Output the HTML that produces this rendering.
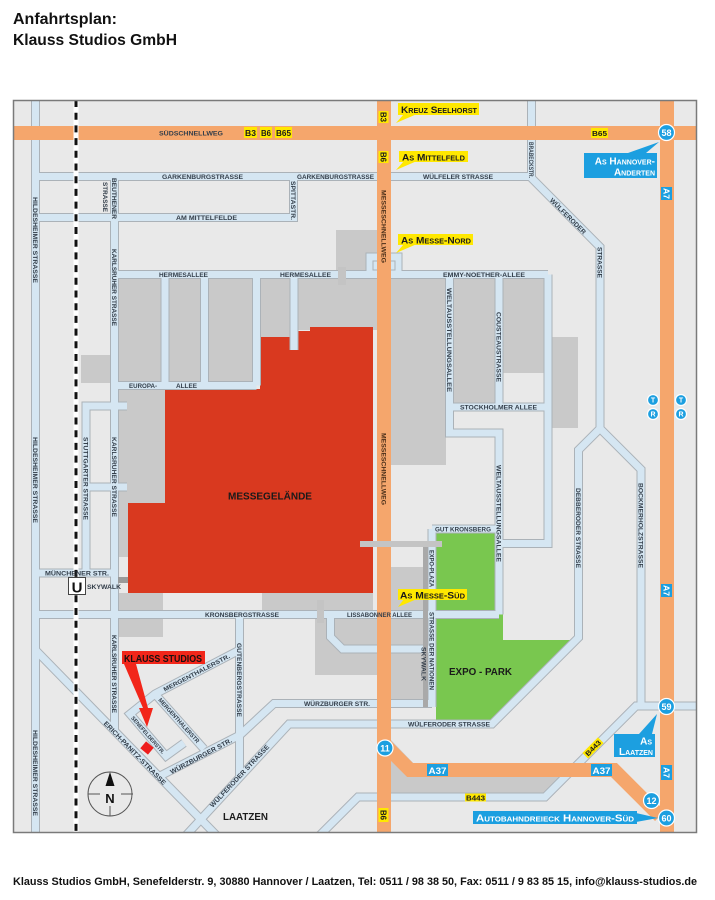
<!DOCTYPE html>
<html><head><meta charset="utf-8"><style>
html,body{margin:0;padding:0;background:#fff;}
svg{display:block;}
.r{font-family:"Liberation Sans",sans-serif;font-weight:bold;font-size:6.6px;fill:#333e4a;}
.b{font-family:"Liberation Sans",sans-serif;font-weight:bold;}
.sc{font-family:"Liberation Sans",sans-serif;font-weight:bold;font-variant:small-caps;}
</style></head><body>
<svg width="715" height="900" viewBox="0 0 715 900" xmlns="http://www.w3.org/2000/svg">
<rect width="715" height="900" fill="#fff"/>
<text class="b" x="13" y="24" font-size="15.5" textLength="104" lengthAdjust="spacingAndGlyphs" fill="#111">Anfahrtsplan:</text>
<text class="b" x="13" y="45" font-size="15.5" textLength="164" lengthAdjust="spacingAndGlyphs" fill="#111">Klauss Studios GmbH</text>

<defs>
<clipPath id="cp"><rect x="13" y="100" width="684" height="733"/></clipPath>
<g id="rd">
<path d="M35.5,95 V840"/>
<path d="M35.5,176.5 H531.5"/>
<path d="M35.5,217.5 H293.5 V176.5"/>
<path d="M114.5,176.5 V731"/>
<path d="M114.5,274.5 H548"/>
<path d="M165,274.5 V385.5"/>
<path d="M204.5,274.5 V385.5"/>
<path d="M256.5,274.5 V385.5"/>
<path d="M294,274.5 V350"/>
<path d="M114.5,385.5 H256.5"/>
<path d="M127,406 H86 V573"/>
<path d="M86,487 H127"/>
<path d="M35.5,573 H114.5"/>
<path d="M35.5,614.5 H499"/>
<path d="M35.5,650 L222,841"/>
<path d="M239.5,614.5 V776"/>
<path d="M158,777 L240,735 L274,703.5 H432"/>
<path d="M178,844 L289,724 H492 L578.5,637.5 V450 L600,428.5 V247 L531.5,178 V95"/>
<path d="M600,428.5 L641,469.5 V706"/>
<path d="M705,706 H636 L545,797 H358 L312,843"/>
<path d="M449.5,274.5 V433 H499 V614.5"/>
<path d="M499,274.5 V407"/>
<path d="M449.5,407 H548"/>
<path d="M548,274.5 V543.5 H499"/>
<path d="M432,529 H499"/>
<path d="M432,529 V707"/>
<path d="M330.5,614.5 V637 L342.5,649 H432"/>
<path d="M239.5,650 L155,694 L130,714 L166,756 L184,743"/>
<path d="M155,694 L204,749"/>
</g>
</defs>

<g clip-path="url(#cp)">
<rect x="13" y="100" width="684" height="733" fill="#e9e9e9"/>
<g fill="#c9c9c9">
<rect x="336" y="230" width="41" height="41"/>
<rect x="119" y="278" width="43" height="104"/>
<rect x="168" y="278" width="33" height="104"/>
<rect x="208" y="278" width="45" height="104"/>
<rect x="260" y="278" width="30" height="62"/>
<rect x="298" y="278" width="79" height="52"/>
<rect x="81" y="355" width="29" height="28"/>
<rect x="119" y="389" width="46" height="114"/>
<rect x="119" y="503" width="9" height="54"/>
<rect x="119" y="593" width="44" height="17"/>
<rect x="119" y="619" width="44" height="18"/>
<rect x="262" y="593" width="111" height="17"/>
<rect x="315" y="619" width="62" height="56"/>
<rect x="391" y="278" width="55" height="187"/>
<rect x="454" y="278" width="41" height="125"/>
<rect x="503" y="278" width="41" height="95"/>
<rect x="552" y="337" width="26" height="91"/>
<rect x="391" y="567" width="32" height="133"/>
<polygon points="391,740 420,770 570,770 554,793 391,793"/>
</g>
<polygon points="165,389 260,389 260,337 298,337 298,331 310,331 310,327 373,327 373,593 128,593 128,503 165,503" fill="#d9391f"/>
<polygon points="436,533 503,533 503,640 572,640 488,724 436,724" fill="#79c74f"/>

<use href="#rd" fill="none" stroke="#abb2b8" stroke-width="9" stroke-linejoin="miter"/>
<use href="#rd" fill="none" stroke="#d5e6f2" stroke-width="7" stroke-linejoin="miter"/>

<rect x="366" y="253" width="36" height="21" fill="#d5e6f2"/>
<path d="M366,271 V253 H402 V271" fill="none" stroke="#abb2b8" stroke-width="1"/>
<rect x="373" y="261" width="22" height="9" fill="none" stroke="#abb2b8" stroke-width="1"/>
<rect x="338" y="267" width="8" height="18" fill="#c4c4c4"/>
<rect x="317" y="600" width="7" height="23" fill="#c4c4c4"/>
<rect x="423" y="547" width="5" height="160" fill="#a9a9a9"/>
<rect x="118" y="577" width="10" height="6" fill="#9a9a9a"/>

<g fill="#f5a66c">
<rect x="13" y="126" width="684" height="14"/>
<rect x="377" y="100" width="14" height="733"/>
<rect x="660" y="100" width="14" height="733"/>
</g>
<path d="M384,744 L410,770 H614 L660,816" stroke="#f5a66c" stroke-width="14" fill="none"/>
<rect x="360" y="541" width="82" height="6" fill="#c4c4c4"/>

<line x1="76" y1="100" x2="76" y2="833" stroke="#fff" stroke-width="5"/>
<line x1="76" y1="100" x2="76" y2="833" stroke="#111" stroke-width="3" stroke-dasharray="7 5.7"/>
</g>

<!-- horizontal road labels -->
<g class="r" lengthAdjust="spacingAndGlyphs">
<text x="159" y="135.4" textLength="64" lengthAdjust="spacingAndGlyphs">SÜDSCHNELLWEG</text>
<text x="162" y="178.9" textLength="81" lengthAdjust="spacingAndGlyphs">GARKENBURGSTRASSE</text>
<text x="297" y="178.9" textLength="77" lengthAdjust="spacingAndGlyphs">GARKENBURGSTRASSE</text>
<text x="423" y="178.9" textLength="70" lengthAdjust="spacingAndGlyphs">WÜLFELER STRASSE</text>
<text x="176" y="219.9" textLength="61" lengthAdjust="spacingAndGlyphs">AM MITTELFELDE</text>
<text x="159" y="276.9" textLength="49" lengthAdjust="spacingAndGlyphs">HERMESALLEE</text>
<text x="280" y="276.9" textLength="51" lengthAdjust="spacingAndGlyphs">HERMESALLEE</text>
<text x="443" y="276.9" textLength="82" lengthAdjust="spacingAndGlyphs">EMMY-NOETHER-ALLEE</text>
<text x="129" y="387.9" textLength="28" lengthAdjust="spacingAndGlyphs">EUROPA-</text>
<text x="176" y="387.9" textLength="21" lengthAdjust="spacingAndGlyphs">ALLEE</text>
<text x="460" y="409.4" textLength="77" lengthAdjust="spacingAndGlyphs">STOCKHOLMER ALLEE</text>
<text x="435" y="531.4" textLength="56" lengthAdjust="spacingAndGlyphs">GUT KRONSBERG</text>
<text x="45" y="575.4" textLength="64" lengthAdjust="spacingAndGlyphs">MÜNCHENER STR.</text>
<text x="87" y="589" textLength="34" lengthAdjust="spacingAndGlyphs">SKYWALK</text>
<text x="205" y="616.9" textLength="74" lengthAdjust="spacingAndGlyphs">KRONSBERGSTRASSE</text>
<text x="347" y="616.9" textLength="65" lengthAdjust="spacingAndGlyphs">LISSABONNER ALLEE</text>
<text x="304" y="705.9" textLength="66" lengthAdjust="spacingAndGlyphs">WÜRZBURGER STR.</text>
<text x="408" y="726.4" textLength="82" lengthAdjust="spacingAndGlyphs">WÜLFERODER STRASSE</text>
</g>

<!-- vertical road labels -->
<g class="r">
<text transform="translate(33.1,197) rotate(90)" textLength="86" lengthAdjust="spacingAndGlyphs">HILDESHEIMER STRASSE</text>
<text transform="translate(33.1,437) rotate(90)" textLength="86" lengthAdjust="spacingAndGlyphs">HILDESHEIMER STRASSE</text>
<text transform="translate(33.1,730) rotate(90)" textLength="86" lengthAdjust="spacingAndGlyphs">HILDESHEIMER STRASSE</text>
<text transform="translate(112.1,178) rotate(90)" textLength="41" lengthAdjust="spacingAndGlyphs">BEUTHENER</text>
<text transform="translate(103,182) rotate(90)" textLength="30" lengthAdjust="spacingAndGlyphs">STRASSE</text>
<text transform="translate(291.1,181) rotate(90)" textLength="39" lengthAdjust="spacingAndGlyphs">SPITTASTR.</text>
<text transform="translate(112.1,249) rotate(90)" textLength="77" lengthAdjust="spacingAndGlyphs">KARLSRUHER STRASSE</text>
<text transform="translate(112.1,437) rotate(90)" textLength="80" lengthAdjust="spacingAndGlyphs">KARLSRUHER STRASSE</text>
<text transform="translate(112.1,635) rotate(90)" textLength="78" lengthAdjust="spacingAndGlyphs">KARLSRUHER STRASSE</text>
<text transform="translate(83.6,437) rotate(90)" textLength="83" lengthAdjust="spacingAndGlyphs">STUTTGARTER STRASSE</text>
<text transform="translate(381.6,190) rotate(90)" textLength="73" lengthAdjust="spacingAndGlyphs" fill="#4a2e18">MESSESCHNELLWEG</text>
<text transform="translate(381.6,433) rotate(90)" textLength="72" lengthAdjust="spacingAndGlyphs" fill="#4a2e18">MESSESCHNELLWEG</text>
<text transform="translate(447.1,288) rotate(90)" textLength="104" lengthAdjust="spacingAndGlyphs">WELTAUSSTELLUNGSALLEE</text>
<text transform="translate(496.6,465) rotate(90)" textLength="97" lengthAdjust="spacingAndGlyphs">WELTAUSSTELLUNGSALLEE</text>
<text transform="translate(496.6,312) rotate(90)" textLength="70" lengthAdjust="spacingAndGlyphs">COUSTEAUSTRASSE</text>
<text transform="translate(576.1,488) rotate(90)" textLength="80" lengthAdjust="spacingAndGlyphs">DEBBERODER STRASSE</text>
<text transform="translate(638.6,483) rotate(90)" textLength="85" lengthAdjust="spacingAndGlyphs">BOCKMERHOLZSTRASSE</text>
<text transform="translate(597.6,247) rotate(90)" textLength="31" lengthAdjust="spacingAndGlyphs">STRASSE</text>
<text transform="translate(529.1,142) rotate(90)" textLength="36" lengthAdjust="spacingAndGlyphs">BRABECKSTR.</text>
<text transform="translate(429.6,550) rotate(90)" textLength="37" lengthAdjust="spacingAndGlyphs">EXPO-PLAZA</text>
<text transform="translate(429.6,612) rotate(90)" textLength="78" lengthAdjust="spacingAndGlyphs">STRASSE DER NATIONEN</text>
<text transform="translate(421.6,647) rotate(90)" textLength="34" lengthAdjust="spacingAndGlyphs">SKYWALK</text>
<text transform="translate(237.1,643) rotate(90)" textLength="74" lengthAdjust="spacingAndGlyphs">GUTENBERGSTRASSE</text>
</g>

<!-- diagonal road labels -->
<g class="r">
<text transform="translate(568,216) rotate(45)" x="-24" y="2.35" textLength="48" lengthAdjust="spacingAndGlyphs">WÜLFERODER</text>
<text transform="translate(196.5,672.5) rotate(-27.5)" x="-37" y="2.35" textLength="74" lengthAdjust="spacingAndGlyphs" font-size="6">MERGENTHALERSTR.</text>
<text transform="translate(179,720.5) rotate(48)" x="-29" y="2.2" textLength="58" lengthAdjust="spacingAndGlyphs" font-size="6">MERGENTHALERSTR</text>
<text transform="translate(148,735) rotate(49)" x="-24" y="2" textLength="48" lengthAdjust="spacingAndGlyphs" font-size="5.6">SENEFELDERSTR.</text>
<text transform="translate(201,756) rotate(-28)" x="-34.5" y="2.35" textLength="69" lengthAdjust="spacingAndGlyphs">WÜRZBURGER STR.</text>
<text transform="translate(135,753) rotate(45.7)" x="-43" y="2.35" textLength="86" lengthAdjust="spacingAndGlyphs">ERICH-PANITZ-STRASSE</text>
<text transform="translate(239.5,776) rotate(-46.8)" x="-41.5" y="2.35" textLength="83" lengthAdjust="spacingAndGlyphs">WÜLFERODER STRASSE</text>
</g>

<!-- big area labels -->
<text class="b" x="228" y="499.5" font-size="10.5" textLength="84" lengthAdjust="spacingAndGlyphs" fill="#1a1a1a">MESSEGELÄNDE</text>
<text class="b" x="449" y="675" font-size="10.5" textLength="63" lengthAdjust="spacingAndGlyphs" fill="#1a1a1a">EXPO - PARK</text>
<text class="b" x="223" y="820" font-size="10.5" textLength="45" lengthAdjust="spacingAndGlyphs" fill="#1a1a1a">LAATZEN</text>

<!-- Klauss Studios marker -->
<rect x="122" y="651" width="83" height="13" fill="#f2261a"/>
<text class="b" x="124" y="662" font-size="10.5" textLength="78" lengthAdjust="spacingAndGlyphs" fill="#1a1010">KLAUSS STUDIOS</text>
<polygon points="124,664 136,664 148,708 153,708 147,727 139,708 143,708" fill="#f2261a"/>
<rect x="142" y="743.5" width="10" height="9" fill="#ee1d1d" transform="rotate(40 147 748)"/>

<!-- U-Bahn -->
<rect x="68.5" y="577.5" width="17" height="17" fill="#fff" stroke="#444" stroke-width="1"/>
<text class="b" x="77" y="592.5" font-size="15" text-anchor="middle" fill="#111">U</text>

<!-- compass -->
<circle cx="110" cy="794" r="22" fill="none" stroke="#555" stroke-width="1"/>
<line x1="88" y1="794" x2="100" y2="794" stroke="#555" stroke-width="1"/>
<line x1="121" y1="794" x2="133" y2="794" stroke="#555" stroke-width="1"/>
<line x1="110" y1="806" x2="110" y2="816" stroke="#555" stroke-width="1"/>
<polygon points="110,772 114.5,786 105.5,786" fill="#111"/>
<text class="b" x="110" y="803" font-size="13" text-anchor="middle" fill="#111">N</text>

<!-- yellow callouts -->
<g fill="#ffe800">
<polygon points="404,114 417,114 396,123"/>
<rect x="398" y="103" width="81" height="12"/>
<polygon points="404,161 417,161 396,170"/>
<rect x="399" y="151" width="69" height="11"/>
<polygon points="404,244 417,244 396,253"/>
<rect x="398" y="234" width="75" height="11"/>
<polygon points="404,599 417,599 398,607"/>
<rect x="398" y="589" width="69" height="11"/>
<rect x="244" y="127" width="13" height="11"/>
<rect x="260" y="127" width="12" height="11"/>
<rect x="275" y="127" width="17" height="11"/>
<rect x="591" y="128" width="17" height="10"/>
<rect x="378.5" y="111" width="10" height="12"/>
<rect x="378.5" y="151" width="10" height="12"/>
<rect x="378.5" y="808" width="10" height="14"/>
<rect x="465" y="793.5" width="21" height="8"/>
<rect x="-11" y="-4" width="22" height="8" transform="translate(593,748) rotate(-45)"/>
</g>
<g fill="#1a1a1a">
<text class="sc" x="401" y="112.8" font-size="9.6" textLength="76" lengthAdjust="spacingAndGlyphs">Kreuz Seelhorst</text>
<text class="sc" x="402" y="160.3" font-size="9.6" textLength="63" lengthAdjust="spacingAndGlyphs">As Mittelfeld</text>
<text class="sc" x="401" y="243.3" font-size="9.6" textLength="70" lengthAdjust="spacingAndGlyphs">As Messe-Nord</text>
<text class="sc" x="400" y="598.3" font-size="9.6" textLength="65" lengthAdjust="spacingAndGlyphs">As Messe-Süd</text>
<text class="b" x="245" y="136" font-size="8" textLength="11" lengthAdjust="spacingAndGlyphs">B3</text>
<text class="b" x="261" y="136" font-size="8" textLength="10" lengthAdjust="spacingAndGlyphs">B6</text>
<text class="b" x="276" y="136" font-size="8" textLength="15" lengthAdjust="spacingAndGlyphs">B65</text>
<text class="b" x="592" y="136" font-size="7.5" textLength="15" lengthAdjust="spacingAndGlyphs">B65</text>
<text class="b" transform="translate(380.5,112) rotate(90)" font-size="8" textLength="10" lengthAdjust="spacingAndGlyphs">B3</text>
<text class="b" transform="translate(380.5,152) rotate(90)" font-size="8" textLength="10" lengthAdjust="spacingAndGlyphs">B6</text>
<text class="b" transform="translate(380.5,810) rotate(90)" font-size="8" textLength="10" lengthAdjust="spacingAndGlyphs">B6</text>
<text class="b" x="466" y="800.3" font-size="7" textLength="19" lengthAdjust="spacingAndGlyphs">B443</text>
<text class="b" transform="translate(593,748) rotate(-45)" x="-9.5" y="2.6" font-size="7" textLength="19" lengthAdjust="spacingAndGlyphs">B443</text>
</g>

<!-- blue callouts -->
<g fill="#1c9fe0">
<polygon points="628,153 646,153 659,142"/>
<rect x="584" y="153" width="73" height="25"/>
<polygon points="639,734 652,734 657,714"/>
<rect x="614" y="734" width="41" height="23"/>
<polygon points="636,813 636,822 658,818"/>
<rect x="473" y="811" width="164" height="13"/>
<rect x="661" y="187" width="11" height="13"/>
<rect x="661" y="584" width="11" height="13"/>
<rect x="661" y="765" width="11" height="15"/>
<rect x="427" y="764" width="21" height="12"/>
<rect x="591" y="764" width="21" height="12"/>
</g>
<g fill="#1c9fe0" stroke="#fff" stroke-width="1.2">
<circle cx="666.5" cy="132.5" r="8"/>
<circle cx="666.5" cy="706.5" r="8"/>
<circle cx="385" cy="748" r="8"/>
<circle cx="651.5" cy="800.5" r="8"/>
<circle cx="666.5" cy="818" r="8"/>
<circle cx="653" cy="400" r="5.5"/>
<circle cx="653" cy="414" r="5.5"/>
<circle cx="681" cy="400" r="5.5"/>
<circle cx="681" cy="414" r="5.5"/>
</g>
<g fill="#fff">
<text class="sc" x="655" y="164.5" font-size="10" text-anchor="end">As Hannover-</text>
<text class="sc" x="655" y="175.5" font-size="10" text-anchor="end">Anderten</text>
<text class="sc" x="652" y="744.5" font-size="10" text-anchor="end">As</text>
<text class="sc" x="653" y="755" font-size="10" text-anchor="end">Laatzen</text>
<text class="sc" x="476" y="821.5" font-size="10" textLength="158" lengthAdjust="spacingAndGlyphs">Autobahndreieck Hannover-Süd</text>
<text class="b" transform="translate(663.5,188) rotate(90)" font-size="8.5" textLength="11" lengthAdjust="spacingAndGlyphs">A7</text>
<text class="b" transform="translate(663.5,585) rotate(90)" font-size="8.5" textLength="11" lengthAdjust="spacingAndGlyphs">A7</text>
<text class="b" transform="translate(663.5,767) rotate(90)" font-size="8.5" textLength="11" lengthAdjust="spacingAndGlyphs">A7</text>
<text class="b" x="428.5" y="774" font-size="9" textLength="18" lengthAdjust="spacingAndGlyphs">A37</text>
<text class="b" x="592.5" y="774" font-size="9" textLength="18" lengthAdjust="spacingAndGlyphs">A37</text>
<text class="b" x="666.5" y="135.8" font-size="9" text-anchor="middle">58</text>
<text class="b" x="666.5" y="709.8" font-size="9" text-anchor="middle">59</text>
<text class="b" x="385" y="751.3" font-size="9" text-anchor="middle">11</text>
<text class="b" x="651.5" y="803.8" font-size="9" text-anchor="middle">12</text>
<text class="b" x="666.5" y="821.3" font-size="9" text-anchor="middle">60</text>
<text class="b" x="653" y="402.6" font-size="7" text-anchor="middle">T</text>
<text class="b" x="653" y="416.6" font-size="7" text-anchor="middle">R</text>
<text class="b" x="681" y="402.6" font-size="7" text-anchor="middle">T</text>
<text class="b" x="681" y="416.6" font-size="7" text-anchor="middle">R</text>
</g>

<rect x="13.5" y="100.5" width="683" height="732" fill="none" stroke="#7a7a7a" stroke-width="1.5"/>

<text class="b" x="13" y="885" font-size="11" textLength="684" lengthAdjust="spacingAndGlyphs" fill="#111">Klauss Studios GmbH, Senefelderstr. 9, 30880 Hannover / Laatzen, Tel: 0511 / 98 38 50, Fax: 0511 /  9 83 85 15, info@klauss-studios.de</text>
</svg>
</body></html>
